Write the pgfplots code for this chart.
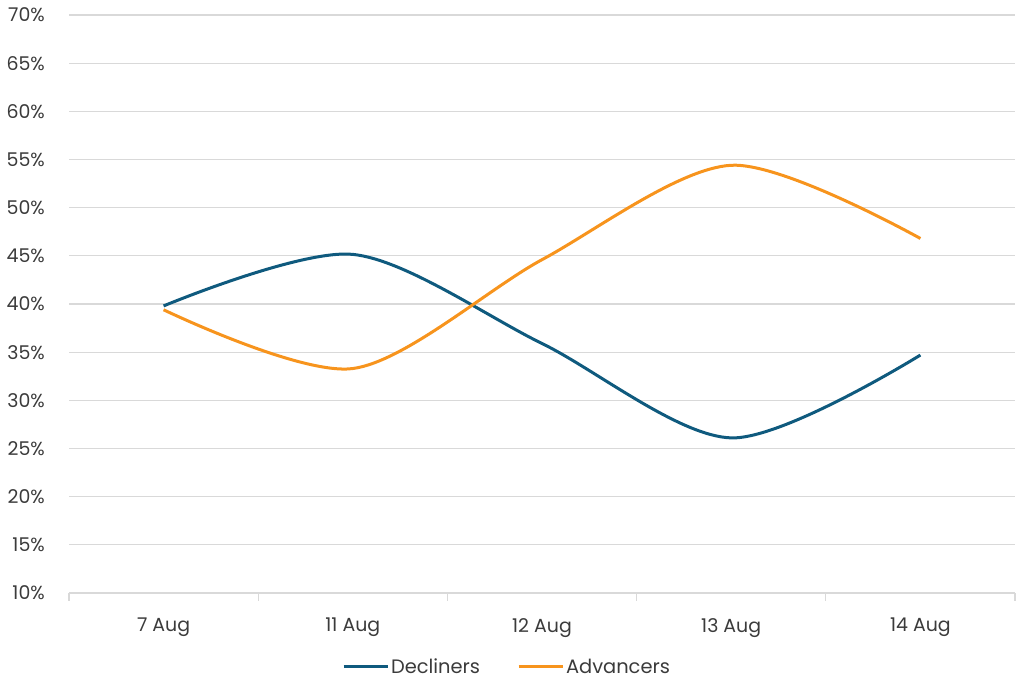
\documentclass[border=0pt]{standalone}
\usepackage{pgfplots}
\pgfplotsset{compat=1.18}
\usepackage{fontspec}
\setmainfont{Poppins}
\definecolor{decl}{HTML}{0F5A7E}
\definecolor{adv}{HTML}{F7941D}
\definecolor{gridc}{HTML}{D9D9D9}
\definecolor{txt}{HTML}{3B3B3B}
\begin{document}
\begin{tikzpicture}[x=1bp,y=1bp]
\path[use as bounding box] (0,0) rectangle (1024,696);
\begin{axis}[
  at={(69bp,103bp)}, anchor=south west,
  scale only axis, width=946bp, height=578bp,
  xmin=-0.5, xmax=4.5, ymin=10, ymax=70,
  /pgf/number format/assume math mode=true,
  axis line style={draw=none},
  xtick pos=bottom, ytick pos=left,
  ytick={10,15,...,70},
  yticklabel={\pgfmathprintnumber{\tick}\%},
  ymajorgrids, grid style={gridc, line width=1.3bp},
  major tick length=0pt,
  xtick={0,1,2,3,4},
  xticklabels={7 Aug,11 Aug,12 Aug,13 Aug,14 Aug},
  extra x ticks={-0.5,0.5,1.5,2.5,3.5,4.5},
  extra x tick labels={},
  extra x tick style={major tick length=8bp, tick align=outside, grid=none, xtick pos=bottom,
    tick style={draw=gridc, line width=1.3bp}},
  yticklabel style={anchor=east, inner sep=0pt, xshift=-24bp, text=txt, font=\fontsize{19}{19}\selectfont},
  xticklabel style={anchor=north, inner sep=0pt, yshift=-25bp, text=txt, font=\fontsize{19}{19}\selectfont},
  legend style={at={(axis description cs:0.463,-0.128)}, anchor=center, draw=none, fill=none,
    legend columns=2, font=\fontsize{19.5}{19.5}\selectfont, text=txt,
    nodes={inner sep=2bp},
    /tikz/every even column/.append style={column sep=35bp}},
  legend image code/.code={\draw[#1] (0bp,0bp) -- (44bp,0bp);},
]
\addplot[decl, line width=3bp, smooth, tension=0.5] coordinates {
 (0,39.8) (1,45.15) (2,35.9) (3,26.1) (4,34.7)};
\addlegendentry{Decliners}
\addplot[adv, line width=3bp, smooth, tension=0.5] coordinates {
 (0,39.4) (1,33.3) (2,44.6) (3,54.4) (4,46.8)};
\addlegendentry{Advancers}
\end{axis}
\end{tikzpicture}
\end{document}
